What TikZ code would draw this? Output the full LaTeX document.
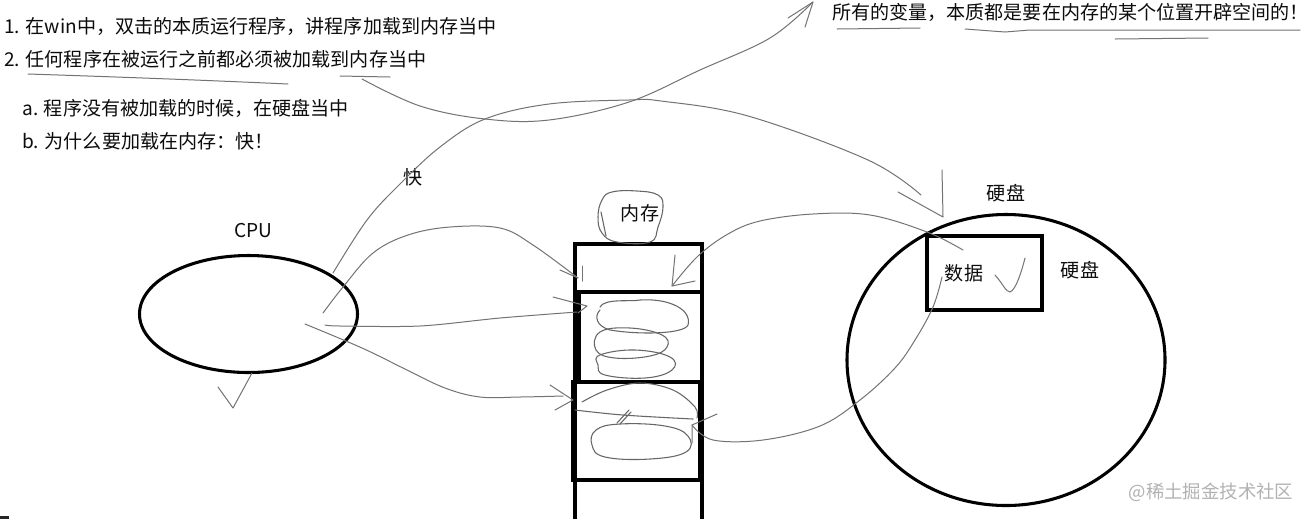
\documentclass[tikz,border=0pt]{standalone}
\usepackage{fontspec}
\setmainfont{Noto Sans CJK SC}
\usetikzlibrary{shapes.geometric}
\begin{document}
\begin{tikzpicture}[x=0.75pt,y=-0.75pt,
  txt/.style={font=\fontsize{14.3pt}{17pt}\selectfont, text=black!95, inner sep=0pt},
  wm/.style={font=\fontsize{13.8pt}{16pt}\selectfont, text=black!30, inner sep=0pt},
  bold/.style={line width=2.3pt, draw=black},
  hand/.style={line width=0.75pt, draw=black!55, line cap=round, line join=round},
  scrib/.style={line width=0.8pt, draw=black!60, line cap=round}]
\useasboundingbox[fill=white] (0,0) rectangle (1308,519);

% ---------- texts ----------
\node[txt, anchor=west] (l1) at (4,26) {1. 在win中，双击的本质运行程序，讲程序加载到内存当中};
\node[txt, anchor=west] (l2) at (4,59) {2. 任何程序在被运行之前都必须被加载到内存当中};
\node[txt, anchor=west] (la) at (22,108) {a. 程序没有被加载的时候，在硬盘当中};
\node[txt, anchor=west] (lb) at (22,141) {b. 为什么要加载在内存：快！};
\node[txt, anchor=west] (var) at (832,12) {所有的变量，本质都是要在内存的某个位置开辟空间的！};
\node[txt] (cpulbl) at (253,231) {CPU};
\node[txt] (fast) at (413,177) {快};
\node[txt] (memlbl) at (640,213) {内存};
\node[txt] (disklbl) at (1006,193) {硬盘};
\node[txt] (disklbl2) at (1080,270) {硬盘};
\node[wm] (mark) at (1211,492) {@稀土掘金技术社区};

% ---------- underlines ----------
\draw[hand] (28,74) .. controls (120,77) and (200,80) .. (288,84);
\draw[hand] (340,76) -- (390,77);
\draw[hand] (837,29) -- (920,28);
\draw[hand] (965,29) -- (1005,32) -- (1030,30) -- (1300,30);
\draw[hand] (1115,39) -- (1208,38);

% ---------- shapes ----------
\node[ellipse, bold, minimum width=163.5pt, minimum height=87.75pt, inner sep=0pt] (cpu) at (248.5,314) {};
\node[ellipse, bold, minimum width=238.5pt, minimum height=218.25pt, inner sep=0pt] (disk) at (1006,360) {};
\node[rectangle, bold, minimum width=86.25pt, minimum height=55.5pt, inner sep=0pt] (data) at (984.5,273) {};
\node[txt] (datalbl) at (964,273) {数据};

% memory column
\draw[bold] (575,519) -- (575,244) -- (702,244) -- (702,519);
\node[rectangle, bold, minimum width=92.25pt, minimum height=67.5pt, inner sep=0pt] (mem2) at (640.5,337) {};
\node[rectangle, bold, line width=2.8pt, minimum width=95.25pt, minimum height=73.5pt, inner sep=0pt] (mem3) at (636.5,431) {};
\coordinate (mem1) at (638,268);

% memory bubble
\draw[scrib] plot[smooth cycle, tension=0.7] coordinates {(617,242) (602,233) (598,217) (602,200) (612,192) (637,191) (658,195) (663,207) (658,227) (650,242)};
\draw[scrib] (601,212) -- (606,236);

% check marks
\draw[hand] (218,387) -- (233,408) -- (252,373);
\draw[hand] (995,275) .. controls (1003,284) and (1006,292) .. (1010,292) .. controls (1016,290) and (1022,270) .. (1025,258);

% scribbles in memory box 2
\draw[scrib] (600,307) .. controls (605,298) and (630,302) .. (640,300) .. controls (670,298) and (692,310) .. (688,325) .. controls (684,334) and (640,335) .. (610,330) .. controls (596,326) and (594,316) .. (600,310);
\draw[scrib] plot[smooth cycle, tension=0.7] coordinates {(600,332) (630,328) (662,335) (667,347) (650,356) (615,358) (596,350)};
\draw[scrib] plot[smooth cycle, tension=0.7] coordinates {(600,355) (635,350) (670,357) (672,370) (645,378) (605,375) (598,365)};

% scribbles in memory box 3
\draw[scrib] plot[smooth, tension=0.6] coordinates {(582,402) (607,390) (640,383) (673,390) (695,407) (697,418)};
\draw[scrib] plot[smooth, tension=0.6] coordinates {(575,410) (623,415) (693,419)};
\draw[scrib] (617,423) -- (629,410);
\draw[scrib] (620,424) -- (631,412);
\draw[scrib] plot[smooth cycle, tension=0.7] coordinates {(596,430) (620,424) (665,426) (688,436) (686,452) (650,459) (605,457) (592,445)};

% ---------- connectors ----------
% 1: line 2 -> variables text
\coordinate (c1s) at (362,79);
\coordinate (c1e) at (813,2);
\draw[hand] plot[smooth, tension=0.6] coordinates {(c1s) (420,106) (485,119) (549,120) (629,102) (700,70) (770,38) (c1e)};
\draw[hand] (788,18) -- (c1e) -- (805,27);

% 2: CPU -> disk (fast)
\coordinate (c2s) at (333,273);
\coordinate (c2e) at (921,195);
\coordinate (c2t) at (943,217);
\draw[hand] plot[smooth, tension=0.6] coordinates {(c2s) (367,220) (400,184) (440,147) (485,119) (549,104) (629,100) (661,101) (748,116) (868,160) (c2e)};
\draw[hand] (898,192) -- (c2t) -- (942,170);

% 5: CPU -> memory top box
\coordinate (c5s) at (323,313);
\coordinate (c5e) at (578,278);
\draw[hand] plot[smooth, tension=0.6] coordinates {(c5s) (343,287) (373,253) (408,235) (450,227) (500,228) (533,245) (c5e)};
\draw[hand] (560,270) -- (c5e);
\draw[hand] (582,266) -- (582,281);

% 6: CPU -> memory box 2
\coordinate (c6s) at (325,325);
\coordinate (c6e) at (577,312);
\coordinate (c6t) at (587,306);
\draw[hand] plot[smooth, tension=0.5] coordinates {(c6s) (340,326) (420,326) (500,318) (c6e)};
\draw[hand] (553,297) -- (c6t) -- (578,313);

% 7: CPU -> memory box 3
\coordinate (c7s) at (305,324);
\coordinate (c7e) at (563,396);
\coordinate (c7t) at (573,400);
\draw[hand] plot[smooth, tension=0.6] coordinates {(c7s) (362,348) (405,369) (445,388) (480,397) (520,397) (c7e)};
\draw[hand] (550,385) -- (c7t) -- (555,410);

% 3: data -> memory top box
\coordinate (c3s) at (963,250);
\coordinate (c3e) at (672,286);
\draw[hand] plot[smooth, tension=0.6] coordinates {(c3s) (927,232) (870,215) (813,214) (760,221) (728,234) (698,256) (c3e)};
\draw[hand] (675,255) -- (c3e) -- (695,281);

% 4: data -> memory box 3
\coordinate (c4s) at (942,277);
\coordinate (c4e) at (692,425);
\draw[hand] plot[smooth, tension=0.6] coordinates {(c4s) (933,307) (915,340) (895,368) (860,400) (820,426) (763,440) (713,440) (c4e)};
\draw[hand] (717,414) -- (c4e) -- (692,443);

% small dark mark at bottom-left corner
\fill[black!85] (0,516) rectangle (9,519);
\end{tikzpicture}
\end{document}
